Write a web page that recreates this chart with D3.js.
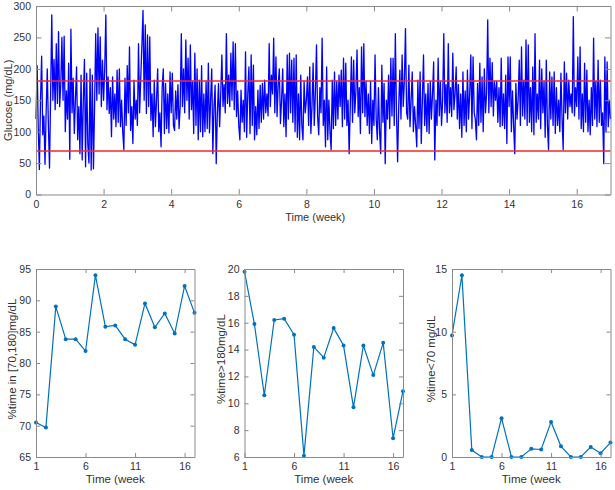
<!DOCTYPE html>
<html>
<head>
<meta charset="utf-8">
<script src="https://cdn.jsdelivr.net/npm/d3@7"></script>
<style>
  body { margin: 0; background: #fff; }
  svg { display: block; }
  text { font-family: "Liberation Sans", Arial, Helvetica, sans-serif; fill: #333; }
</style>
</head>
<body>
<svg id="chart" width="615" height="490"></svg>
<script>
// ---------------- DATA ----------------
// Glucose trace, 30 samples per week, weeks 0..17
const samplesPerWeek = 30;
const glucose = [
  // week 0
  120,205,105,40,150,220,95,125,48,130,200,110,42,160,286,150,215,135,240,145,259,140,175,250,150,252,100,165,120,209,
  // week 1
  56,263,130,185,97,150,203,87,140,65,190,55,150,215,44,193,80,50,200,39,190,41,140,256,150,265,160,251,140,214,
  // week 2
  150,200,286,135,187,129,170,92,187,120,160,108,198,115,200,108,150,100,71,185,110,205,130,235,102,140,81,182,120,150,
  // week 3
  110,240,130,185,238,293,150,270,129,254,140,251,118,160,92,182,108,150,200,100,130,76,170,200,97,177,105,160,98,195,
  // week 4
  130,193,110,102,165,120,175,105,140,256,140,200,130,246,150,217,120,238,135,180,97,225,110,200,87,182,100,205,92,160,
  // week 5
  100,180,105,209,98,150,200,65,140,174,49,130,177,108,160,222,140,175,130,256,145,190,140,225,150,243,135,240,124,165,
  // week 6
  110,87,166,115,150,100,227,91,160,203,97,222,110,206,87,140,95,166,105,174,115,177,120,182,130,160,125,240,140,190,
  // week 7
  160,249,130,219,124,175,200,113,150,200,108,160,92,222,120,225,130,214,115,217,100,222,91,160,87,190,110,87,180,130,
  // week 8
  150,187,110,203,97,140,209,110,160,238,124,95,170,130,249,110,150,76,203,87,150,100,71,182,105,195,110,180,120,190,
  // week 9
  140,198,108,217,120,209,110,150,65,140,219,115,214,130,165,230,124,170,97,235,130,240,124,180,110,160,97,180,81,150,
  // week 10
  110,222,120,87,170,100,65,206,115,177,49,150,120,190,105,217,125,217,110,256,130,52,140,198,120,222,140,180,264,130,
  // week 11
  120,206,108,150,195,100,140,110,76,182,105,195,81,150,222,110,160,100,177,97,180,120,160,211,55,150,110,217,125,180,
  // week 12
  110,150,256,130,175,115,240,130,170,124,225,135,160,203,120,175,105,160,91,195,110,165,100,198,120,160,222,105,219,130,
  // week 13
  120,87,177,110,209,115,187,100,200,130,160,278,130,217,140,210,125,180,150,180,115,170,108,217,110,160,105,190,81,219,
  // week 14
  140,219,100,165,110,65,177,120,150,214,110,235,125,182,120,246,110,238,115,170,100,203,95,256,115,160,120,214,105,200,
  // week 15
  130,180,91,214,110,71,195,120,187,110,195,97,170,110,150,100,193,120,71,211,130,193,120,182,140,160,130,283,125,170,
  // week 16
  140,219,120,235,105,160,100,209,115,198,100,150,95,170,110,249,120,180,108,214,115,182,110,130,49,219,100,211,108,150,
  // end (week 17)
  120
];
const glucoseLimits = [70, 180];
const glucoseTicksY = [0, 50, 100, 150, 200, 250, 300];
const glucoseTicksX = [0, 2, 4, 6, 8, 10, 12, 14, 16];

// Weekly summaries
const weeks = [1,2,3,4,5,6,7,8,9,10,11,12,13,14,15,16,17];
const pctInRange = [70.5,69.7,89.0,83.8,83.8,81.9,94.0,85.8,86.0,83.8,82.9,89.5,85.7,87.9,84.7,92.3,88.0];
const pctAbove180 = [19.8,15.9,10.6,16.2,16.3,15.1,6.1,14.2,13.4,15.6,14.3,9.7,14.3,12.1,14.5,7.4,10.9];
const pctBelow70 = [9.7,14.5,0.55,0,0,3.1,0,0,0.65,0.6,2.8,0.85,0,0,0.8,0.3,1.15];
const weekTicks = [1, 6, 11, 16];

// ---------------- DRAWING ----------------
const svg = d3.select("#chart");
const axisColor = "#8a8a8a";

function boxAxes(g, x, y, w, h, xTicks, yTicks, tickLen, xFmt, yFmt) {
  const ax = [
    {a: d3.axisBottom(x).tickValues(xTicks).tickSize(-tickLen).tickSizeOuter(0).tickPadding(6).tickFormat(xFmt), t: `translate(0,${h})`},
    {a: d3.axisTop(x).tickValues(xTicks).tickSize(-tickLen).tickSizeOuter(0).tickFormat(""), t: `translate(0,0)`},
    {a: d3.axisLeft(y).tickValues(yTicks).tickSize(-tickLen).tickSizeOuter(0).tickPadding(5).tickFormat(yFmt), t: `translate(0,0)`},
    {a: d3.axisRight(y).tickValues(yTicks).tickSize(-tickLen).tickSizeOuter(0).tickFormat(""), t: `translate(${w},0)`}
  ];
  ax.forEach(o => {
    const s = g.append("g").attr("transform", o.t).call(o.a);
    s.select(".domain").attr("stroke", axisColor);
    s.selectAll(".tick line").attr("stroke", axisColor);
    s.selectAll(".tick text").attr("fill", "#333").style("font-size", "10.5px")
      .style("font-family", '"Liberation Sans", Arial, sans-serif');
  });
}

// ---- Top chart ----
(function() {
  const L = 36, T = 6, W = 574.5, H = 188.5;
  const g = svg.append("g").attr("transform", `translate(${L},${T})`);
  const x = d3.scaleLinear().domain([0, 17]).range([0, W]);
  const y = d3.scaleLinear().domain([0, 300]).range([H, 0]);

  const line = d3.line()
    .x((d, i) => x(i / samplesPerWeek))
    .y(d => y(d));
  g.append("path").datum(glucose)
    .attr("d", line)
    .attr("fill", "none")
    .attr("stroke", "#0000ff")
    .attr("stroke-width", 1.3)
    .attr("stroke-linejoin", "round");

  glucoseLimits.forEach(v => {
    let a = Math.round(T + y(v));
    if (a % 2 === 0) a += 1;
    const yy = a - T;
    g.append("line").attr("x1", 0).attr("x2", W).attr("y1", yy).attr("y2", yy)
      .attr("stroke", "#f02828").attr("stroke-width", 1.6);
  });

  boxAxes(g, x, y, W, H, glucoseTicksX, glucoseTicksY, 5.5, d3.format("d"), d3.format("d"));

  g.append("text").attr("x", W / 2 - 8).attr("y", H + 26)
    .attr("text-anchor", "middle").style("font-size", "11px").text("Time (week)");
  g.append("text").attr("transform", `translate(${-24},${H / 2}) rotate(-90)`)
    .attr("text-anchor", "middle").style("font-size", "11px").text("Glucose (mg/dL)");
})();

// ---- Bottom charts ----
const bottom = [
  {L: 36, values: pctInRange, dom: [65, 95], ticks: [65,70,75,80,85,90,95], label: "%time in [70,180]mg/dL", lx: 12},
  {L: 244.5, values: pctAbove180, dom: [6, 20], ticks: [6,8,10,12,14,16,18,20], label: "%time>180mg/dL", lx: 221},
  {L: 452, values: pctBelow70, dom: [0, 15], ticks: [0,5,10,15], label: "%time<70 mg/dL", lx: 431}
];
bottom.forEach(c => {
  const T = 269, W = 158.5, H = 188;
  const g = svg.append("g").attr("transform", `translate(${c.L},${T})`);
  const x = d3.scaleLinear().domain([1, 17]).range([0, W]);
  const y = d3.scaleLinear().domain(c.dom).range([H, 0]);
  const data = weeks.map((w, i) => ({w, v: c.values[i]}));

  g.append("path").datum(data)
    .attr("d", d3.line().x(d => x(d.w)).y(d => y(d.v)))
    .attr("fill", "none").attr("stroke", "#0072BD").attr("stroke-width", 1.2);
  g.selectAll("circle").data(data).enter().append("circle")
    .attr("cx", d => x(d.w)).attr("cy", d => y(d.v)).attr("r", 2)
    .attr("fill", "#0072BD");

  boxAxes(g, x, y, W, H, weekTicks, c.ticks, 4, d3.format("d"), d3.format("d"));

  g.append("text").attr("x", W / 2).attr("y", H + 26)
    .attr("text-anchor", "middle").style("font-size", "11.5px").text("Time (week");
  g.append("text").attr("transform", `translate(${c.lx - c.L + 4},${H / 2 - 4}) rotate(-90)`)
    .attr("text-anchor", "middle").style("font-size", "11.5px").text(c.label);
});
</script>
</body>
</html>
